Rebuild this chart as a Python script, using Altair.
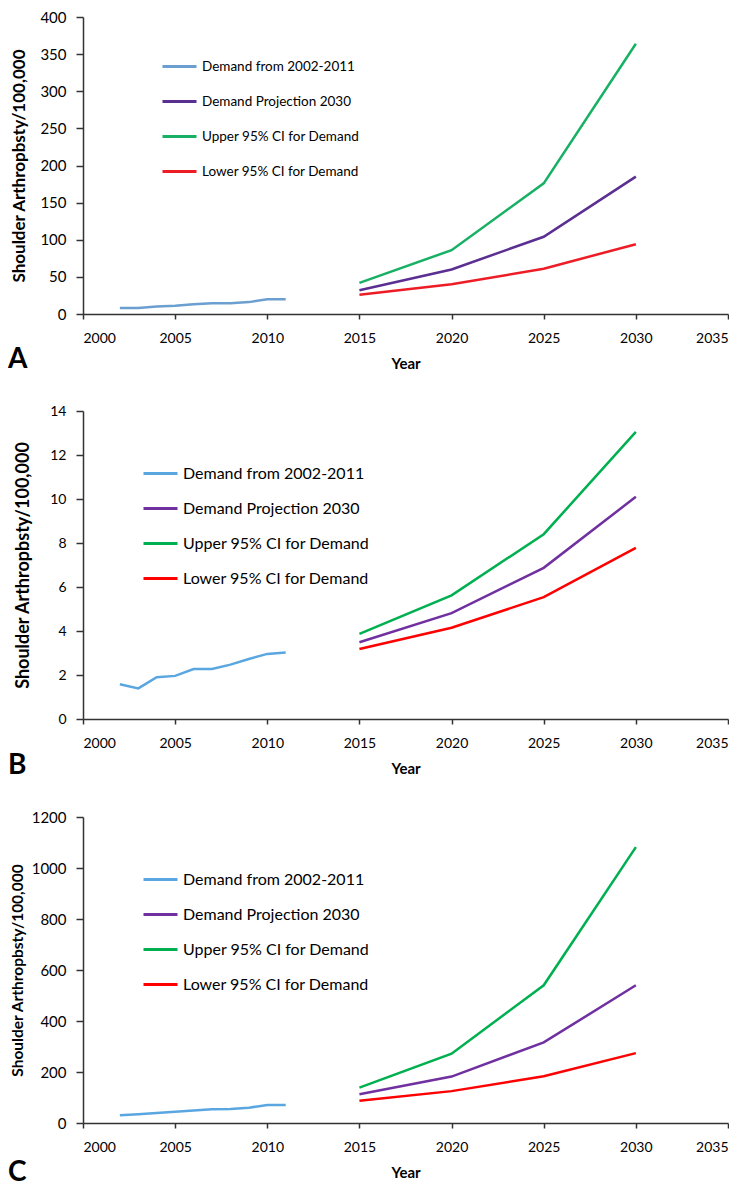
import altair as alt
import pandas as pd

hist_years = list(range(2002, 2012))
proj_years = [2015, 2020, 2025, 2030]
series_names = ["Demand from 2002-2011", "Demand Projection 2030",
                "Upper 95% CI for Demand", "Lower 95% CI for Demand"]
x_ticks = [2000, 2005, 2010, 2015, 2020, 2025, 2030, 2035]

a_hist = [8, 8, 10, 11, 13, 14.6, 14.6, 16, 20, 20]
a_proj = [32, 60, 104, 185]
a_upper = [42, 86, 176, 364]
a_lower = [26, 40, 61, 94]
a_yticks = [0, 50, 100, 150, 200, 250, 300, 350, 400]

b_hist = [1.58, 1.39, 1.90, 1.96, 2.27, 2.27, 2.47, 2.73, 2.96, 3.02]
b_proj = [3.49, 4.81, 6.87, 10.1]
b_upper = [3.87, 5.62, 8.40, 13.05]
b_lower = [3.18, 4.15, 5.54, 7.78]
b_yticks = [0, 2, 4, 6, 8, 10, 12, 14]

c_hist = [30, 34, 39, 44, 49, 54, 55, 60, 71, 71]
c_proj = [113, 182, 316, 540]
c_upper = [139, 272, 540, 1082]
c_lower = [87, 125, 183, 274]
c_yticks = [0, 200, 400, 600, 800, 1000, 1200]

W = 645
FONT = "Lato"


def panel(letter, hist, proj, upper, lower, yticks, colors, h,
          ylab_fs, ytitle_fs, ytitle_x, leg_fs, leg_x, leg_y, leg_rowpad,
          letter_dy):
    rows = []
    for yr, v in zip(hist_years, hist):
        rows.append({"Year": yr, "Value": v, "Series": series_names[0]})
    for name, vals in zip(series_names[1:], [proj, upper, lower]):
        for yr, v in zip(proj_years, vals):
            rows.append({"Year": yr, "Value": v, "Series": name})
    df = pd.DataFrame(rows)

    lines = alt.Chart(df).mark_line(strokeWidth=2.5).encode(
        x=alt.X("Year:Q",
                scale=alt.Scale(domain=[2000, 2035], nice=False, zero=False),
                axis=alt.Axis(values=x_ticks, format="d", title="Year",
                              titleFontSize=15, titleFontWeight="bold",
                              labelFontSize=14, tickSize=5, labelPadding=12,
                              titleX=W / 2, titleY=49, titleAlign="center",
                              titleBaseline="middle")),
        y=alt.Y("Value:Q",
                scale=alt.Scale(domain=[yticks[0], yticks[-1]], nice=False),
                axis=alt.Axis(values=yticks, format="d",
                              title="Shoulder Arthropbsty/100,000",
                              titleFontSize=ytitle_fs, titleFontWeight="bold",
                              titleAngle=270, titleX=ytitle_x, titleY=h / 2,
                              titleAlign="center", titleBaseline="middle",
                              labelFontSize=ylab_fs, tickSize=7, labelPadding=10)),
        color=alt.Color("Series:N",
                        scale=alt.Scale(domain=series_names, range=colors),
                        sort=series_names,
                        legend=alt.Legend(title=None, orient="none",
                                          legendX=leg_x, legendY=leg_y,
                                          symbolType="stroke", symbolSize=1156,
                                          symbolStrokeWidth=3,
                                          labelFontSize=leg_fs, labelFont=FONT,
                                          labelColor="black", labelLimit=400,
                                          rowPadding=leg_rowpad,
                                          padding=0, labelOffset=4)),
    )
    lab = alt.Chart(pd.DataFrame({"label": [letter]})).mark_text(
        align="left", baseline="middle", fontSize=28, fontWeight="bold",
        font=FONT, color="black"
    ).encode(x=alt.value(-75), y=alt.value(h + letter_dy), text="label:N")
    return alt.layer(lines, lab).properties(width=W, height=h)


colors_a = ["#6a9fd0", "#5b2f91", "#17b064", "#ee1c25"]
colors_bc = ["#5aa6e0", "#7030a0", "#00b050", "#ff0000"]

pa = panel("A", a_hist, a_proj, a_upper, a_lower, a_yticks, colors_a, 297,
           15, 17, -64, 13.5, 78, 31, 10, 46)
pb = panel("B", b_hist, b_proj, b_upper, b_lower, b_yticks, colors_bc, 308,
           14, 18, -60, 16, 59, 44, 8, 47)
pc = panel("C", c_hist, c_proj, c_upper, c_lower, c_yticks, colors_bc, 306,
           15, 15.5, -66, 16, 59, 44, 8, 50)

chart = alt.vconcat(pa, pb, pc, spacing=30).resolve_scale(
    color="independent", x="independent", y="independent"
).resolve_legend(color="independent").properties(
    padding={"top": 2, "left": 0, "right": 0, "bottom": 0}
).configure_view(
    stroke=None
).configure_axis(
    grid=False, domainColor="#333333", tickColor="#333333", domainWidth=1.5,
    tickWidth=1.5, labelFont=FONT, titleFont=FONT, labelColor="black",
    titleColor="black"
)

chart.save("out.html", embed_options={"renderer": "svg", "actions": False})
